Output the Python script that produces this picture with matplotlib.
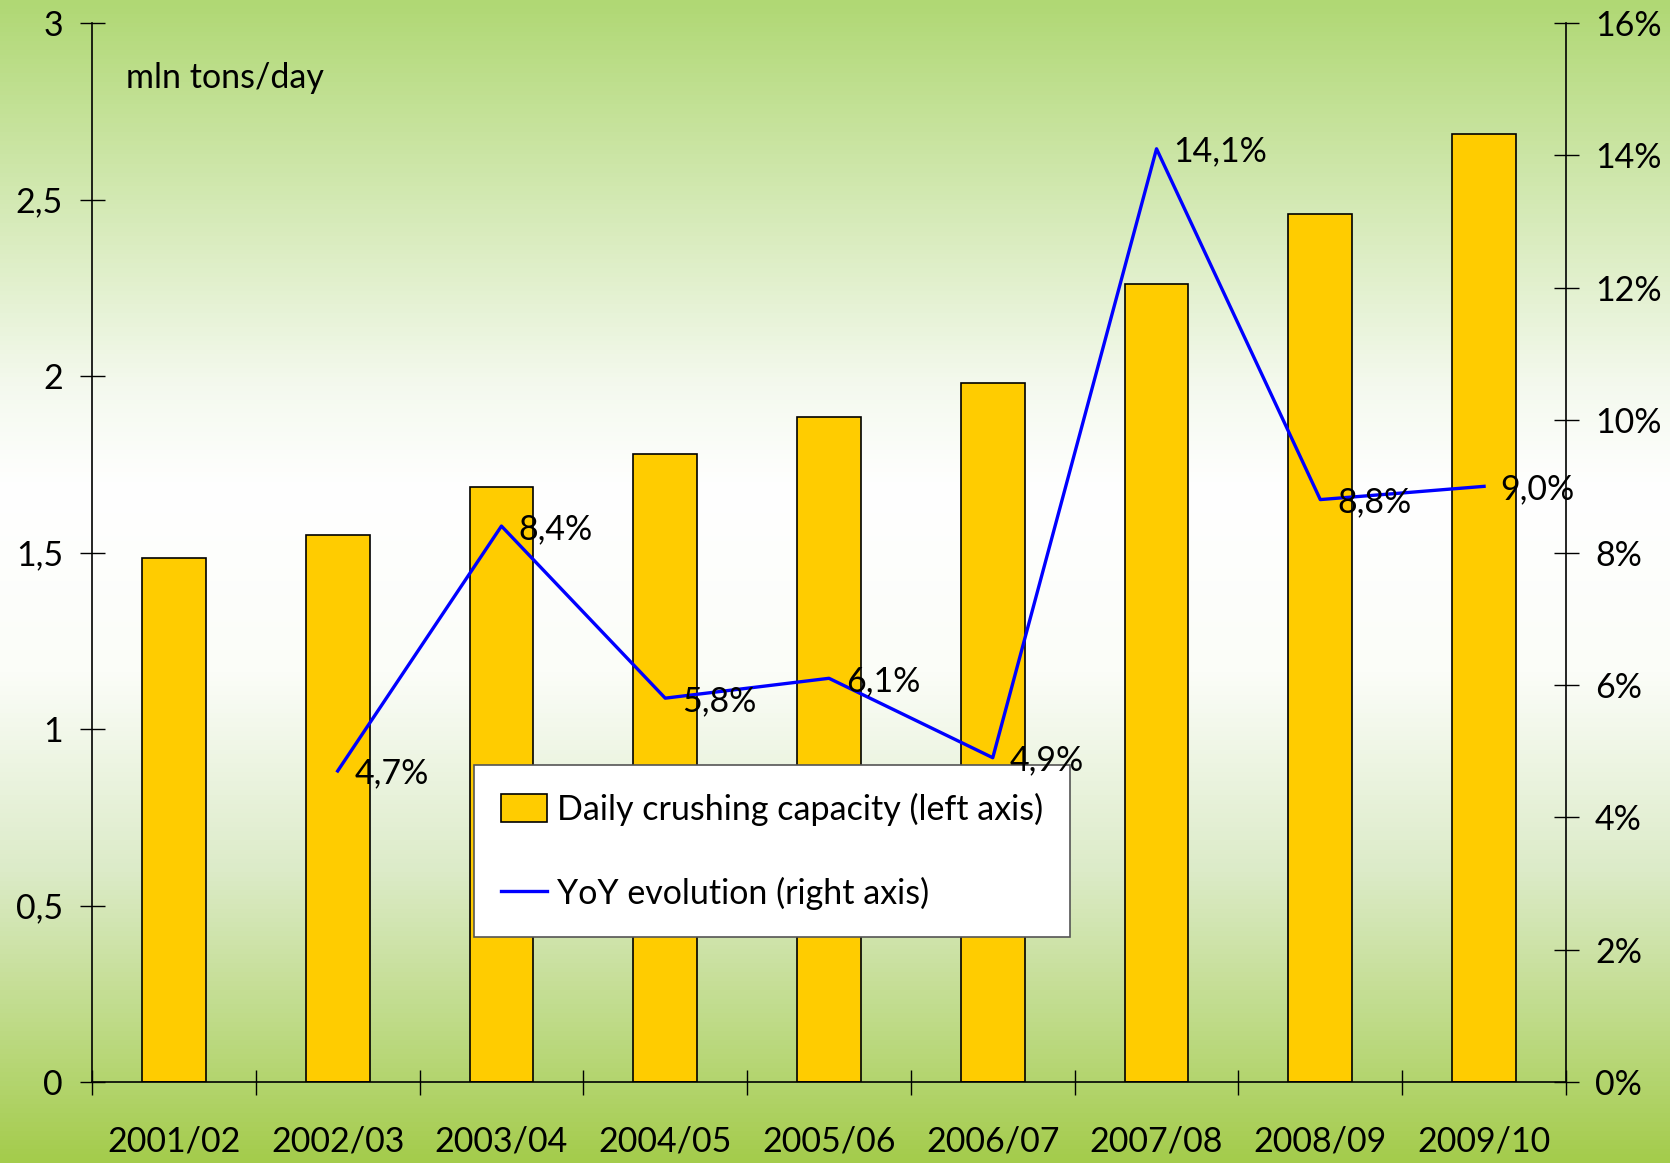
import numpy as np
import matplotlib
matplotlib.use("Agg")
import matplotlib.pyplot as plt
from matplotlib.colors import LinearSegmentedColormap
from matplotlib.patches import Patch
from matplotlib.lines import Line2D
from matplotlib.ticker import FixedLocator, FuncFormatter

plt.rcParams['font.family'] = ['Lato', 'DejaVu Sans']
FS = 24.5

seasons = ['2001/02', '2002/03', '2003/04', '2004/05', '2005/06',
           '2006/07', '2007/08', '2008/09', '2009/10']
capacity = [1.485, 1.55, 1.685, 1.78, 1.885, 1.98, 2.26, 2.46, 2.685]  # mln tons/day
yoy = [None, 4.7, 8.4, 5.8, 6.1, 4.9, 14.1, 8.8, 9.0]  # % change vs previous season
yoy_labels = ['', '4,7%', '8,4%', '5,8%', '6,1%', '4,9%', '14,1%', '8,8%', '9,0%']
left_ticks = [0, 0.5, 1, 1.5, 2, 2.5, 3]
left_tick_labels = ['0', '0,5', '1', '1,5', '2', '2,5', '3']
right_ticks = [0, 2, 4, 6, 8, 10, 12, 14, 16]

fig = plt.figure(figsize=(16.70, 11.63), dpi=100)

# green -> white -> green vertical background
bg = fig.add_axes([0, 0, 1, 1], zorder=0)
grad_cmap = LinearSegmentedColormap.from_list(
    'bg', [(0.0, '#b0d874'), (0.33, '#f4f9ee'), (0.42, '#ffffff'),
           (0.58, '#fbfdf8'), (0.75, '#dcebc8'), (1.0, '#a4cc4c')])
bg.imshow(np.linspace(0, 1, 256).reshape(-1, 1), aspect='auto', cmap=grad_cmap,
          extent=[0, 1, 1, 0])
bg.set_axis_off()

ax = fig.add_axes([0.0551, 0.0696, 0.8826, 0.9106], zorder=1)
ax.set_facecolor('none')
x = np.arange(len(seasons))

ax.bar(x, capacity, width=0.39, color='#ffcc00', edgecolor='black',
       linewidth=1.2, zorder=2)
ax.set_xlim(-0.5, len(seasons) - 0.5)
ax.set_ylim(0, 3)

ax.xaxis.set_major_locator(FixedLocator(np.arange(-0.5, len(seasons), 1.0)))
ax.xaxis.set_major_formatter(FuncFormatter(lambda v, p: ''))
ax.set_xticks(x, seasons, minor=True)
ax.tick_params(axis='x', which='major', direction='inout', length=18, width=1)
ax.tick_params(axis='x', which='minor', length=0, pad=31, labelsize=FS)

ax.set_yticks(left_ticks, left_tick_labels)
ax.tick_params(axis='y', direction='inout', length=18, width=1, pad=12, labelsize=FS)

for side in ['top', 'right']:
    ax.spines[side].set_visible(False)
ax.spines['left'].set_linewidth(1.2)
ax.spines['bottom'].set_linewidth(1.2)

ax.text(0.023, 0.948, 'mln tons/day', transform=ax.transAxes, fontsize=FS,
        va='center', ha='left')

# YoY line on the secondary axis
ax2 = ax.twinx()
ax2.set_ylim(0, 16)
ax2.set_yticks(right_ticks, [f'{t}%' for t in right_ticks])
ax2.tick_params(axis='y', direction='inout', length=18, width=1, pad=12, labelsize=FS)
for side in ['top', 'left', 'bottom']:
    ax2.spines[side].set_visible(False)
ax2.spines['right'].set_linewidth(1.2)

xs = [i for i, v in enumerate(yoy) if v is not None]
ys = [v for v in yoy if v is not None]
ax2.plot(xs, ys, color='#0000ff', linewidth=2.4, zorder=3)
for i in xs:
    ax2.annotate(yoy_labels[i], (i, yoy[i]), xytext=(12, -2),
                 textcoords='offset points', ha='left', va='center',
                 fontsize=FS, zorder=7)

handles = [Patch(facecolor='#ffcc00', edgecolor='black', linewidth=1.2),
           Line2D([0], [0], color='#0000ff', linewidth=2.4)]
leg = ax2.legend(handles, ['Daily crushing capacity (left axis)',
                           'YoY evolution (right axis)'],
                 loc='lower left', bbox_to_anchor=(0.259, 0.137),
                 fontsize=FS, frameon=True, fancybox=False, framealpha=1,
                 edgecolor='#555555', borderpad=0.8, labelspacing=1.5,
                 handlelength=1.35, handleheight=0.9, handletextpad=0.3,
                 borderaxespad=0)
leg.get_frame().set_linewidth(1.2)
leg.set_zorder(5)

fig.savefig('out.png', dpi=100)
